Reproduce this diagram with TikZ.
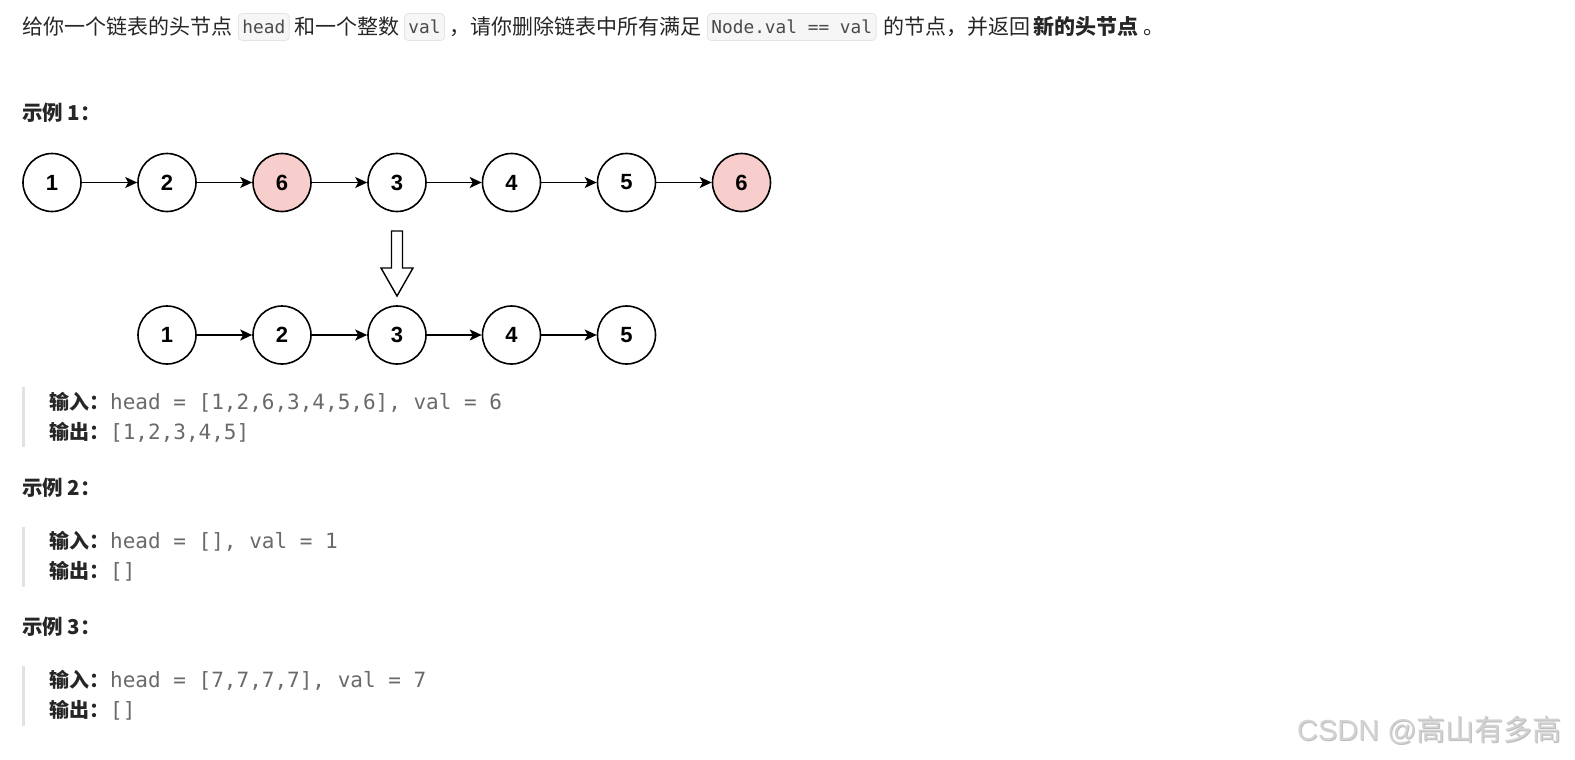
\documentclass[tikz,border=0pt]{standalone}
\usepackage{fontspec}
\setmainfont{Noto Sans CJK SC}
\newfontfamily\monof{DejaVu Sans Mono}
\newfontfamily\numf{Liberation Sans}
\usetikzlibrary{arrows.meta}
\definecolor{textc}{HTML}{262626}
\definecolor{codebg}{HTML}{F6F6F7}
\definecolor{codeborder}{HTML}{E4E4E6}
\definecolor{codetext}{HTML}{4A4A4A}
\definecolor{graytext}{HTML}{6A6A6A}
\definecolor{barc}{HTML}{E2E2E2}
\definecolor{pinkfill}{HTML}{F8CECC}
\definecolor{wmc}{HTML}{D2D2D2}
\definecolor{wmshadow}{HTML}{BDBDBD}
\begin{document}
\begin{tikzpicture}[x=1pt,y=-1pt,
  txt/.style={anchor=base west, inner sep=0pt, text=textc, font=\fontsize{21}{25}\selectfont},
  head/.style={anchor=base west, inner sep=0pt, text=textc, font=\bfseries\fontsize{20.5}{24}\selectfont},
  quote/.style={anchor=base west, inner sep=0pt, text=textc, font=\fontsize{20}{24}\selectfont},
  code/.style={anchor=west, draw=codeborder, fill=codebg, rounded corners=4pt, line width=0.8pt,
    inner xsep=4pt, inner ysep=0pt, minimum height=27pt, text=codetext,
    font=\monof\fontsize{17.8}{20}\selectfont},
  ll/.style={circle, draw=black, line width=1.6pt, minimum size=58pt, inner sep=0pt, fill=white,
    font=\numf\bfseries\fontsize{22}{24}\selectfont},
  del/.style={ll, fill=pinkfill},
  nx/.style={-{Stealth[length=12pt,width=11pt,inset=3pt]}, line width=1.8pt},
  bar/.style={fill=barc, draw=none},
  mono/.style={anchor=base west, inner sep=0pt, font=\monof\fontsize{21}{25}\selectfont, text=graytext}
]
\useasboundingbox (0,0) rectangle (1575,760);
\fill[white] (0,0) rectangle (1575,760);

% ---- top line
\node[txt] (t1) at (22,35) {给你一个链表的头节点};
\node[code] (c1) at (238,27) {head};
\node[txt] (t2) at (294,35) {和一个整数};
\node[code] (c2) at (404,27) {val};
\node[txt] (t3) at (449,35) {，请你删除链表中所有满足};
\node[code] (c3) at (707,27) {Node.val == val};
\node[txt] (t4) at (883,35) {的节点，并返回};
\node[txt] (t5) at (1033,35) {\bfseries 新的头节点};
\node[txt] (t6) at (1143,35) {。};

% ---- example 1
\node[head] (h1) at (22,121) {示例 1：};

\node[ll]  (a1) at (52,182.5) {1};
\node[ll]  (a2) at (167,182.5) {2};
\node[del] (a3) at (282,182.5) {6};
\node[ll]  (a4) at (397,182.5) {3};
\node[ll]  (a5) at (511.5,182.5) {4};
\node[ll]  (a6) at (626.5,182.5) {5};
\node[del] (a7) at (741.5,182.5) {6};
\foreach \i/\j in {a1/a2,a2/a3,a3/a4,a4/a5,a5/a6,a6/a7}
  \draw[nx] (\i) -- (\j);

\draw[line width=1.4pt, fill=white, line join=miter]
  (391.5,231) -- (402.5,231) -- (402.5,268) -- (413,268) -- (397,296)
  -- (381,268) -- (391.5,268) -- cycle;

\node[ll] (b1) at (167,335) {1};
\node[ll] (b2) at (282,335) {2};
\node[ll] (b3) at (397,335) {3};
\node[ll] (b4) at (511.5,335) {4};
\node[ll] (b5) at (626.5,335) {5};
\foreach \i/\j in {b1/b2,b2/b3,b3/b4,b4/b5}
  \draw[nx] (\i) -- (\j);

\fill[bar] (22,387) rectangle (25,447);
\node[quote] (q1) at (49,409) {\bfseries 输入：};
\node[mono] (m1) at (110,409) {head = [1,2,6,3,4,5,6], val = 6};
\node[quote] (q2) at (49,439) {\bfseries 输出：};
\node[mono] (m2) at (110,439) {[1,2,3,4,5]};

% ---- example 2
\node[head] (h2) at (22,495) {示例 2：};
\fill[bar] (22,527) rectangle (25,587);
\node[quote] (q3) at (49,548) {\bfseries 输入：};
\node[mono] (m3) at (110,548) {head = [], val = 1};
\node[quote] (q4) at (49,578) {\bfseries 输出：};
\node[mono] (m4) at (110,578) {[]};

% ---- example 3
\node[head] (h3) at (22,634) {示例 3：};
\fill[bar] (22,666) rectangle (25,726);
\node[quote] (q5) at (49,687) {\bfseries 输入：};
\node[mono] (m5) at (110,687) {head = [7,7,7,7], val = 7};
\node[quote] (q6) at (49,717) {\bfseries 输出：};
\node[mono] (m6) at (110,717) {[]};

% ---- watermark
\node[anchor=base east, inner sep=0pt, text=wmshadow, font=\fontsize{29}{32}\selectfont] (wms) at (1562.7,741.2)
  {{\numf CSDN @}高山有多高};
\node[anchor=base east, inner sep=0pt, text=wmc, font=\fontsize{29}{32}\selectfont] (wm) at (1562,740.5)
  {{\numf CSDN @}高山有多高};
\end{tikzpicture}
\end{document}
